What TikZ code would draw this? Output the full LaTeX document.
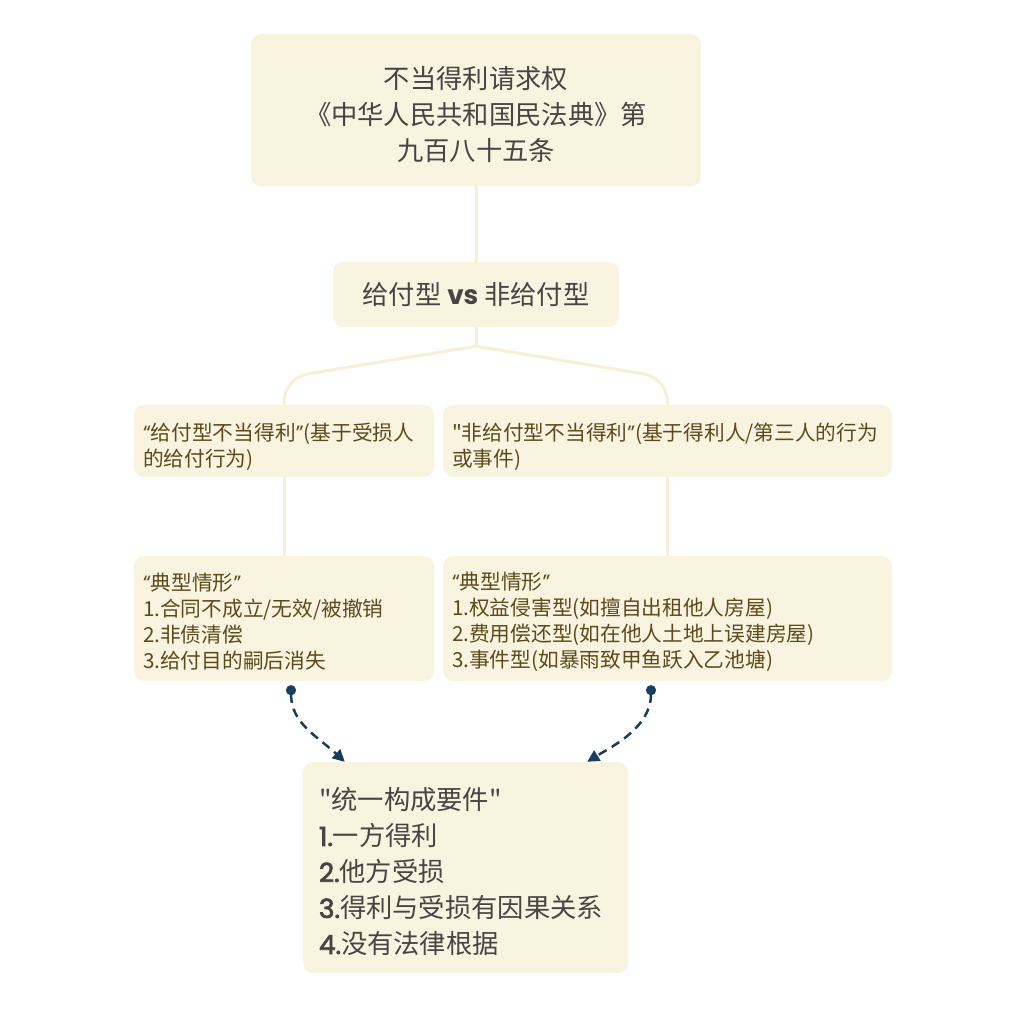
\documentclass[tikz,border=0pt]{standalone}
\usepackage{fontspec}
\setmainfont{Noto Sans CJK SC}[Ligatures=TeXOff]
\newfontfamily\lat{Poppins}[Ligatures=TeXOff]
\newfontfamily\latmid{Poppins}[Ligatures=TeXOff, FakeBold=2.5]
\usetikzlibrary{calc}
\usetikzlibrary{positioning}
\usetikzlibrary{arrows.meta}

\definecolor{boxfill}{HTML}{F9F4DF}
\definecolor{linkcol}{HTML}{F7F0D6}
\definecolor{darktext}{HTML}{4A4343}
\definecolor{browntext}{HTML}{5C4A1C}
\definecolor{navy}{HTML}{183E5E}
\newcommand{\itemno}[1]{{\latmid #1}}
\newcommand{\oq}{{\lat “}}
\newcommand{\cq}{{\lat ”}}
\newcommand{\headroom}[1]{\rule{0pt}{#1}}

\begin{document}
\begin{tikzpicture}[x=1pt, y=-1pt,
    box/.style={rectangle, rounded corners=10pt, fill=boxfill, inner sep=0pt},
    bigbox/.style={box, text=darktext, font=\fontsize{26.3}{36}\selectfont},
    smallbox/.style={box, text=browntext, font=\fontsize{20.7}{26}\selectfont, align=left},
    link/.style={draw=linkcol, line width=3pt},
    flow/.style={draw=navy, line width=2.5pt, dash pattern=on 9pt off 6pt,
        {Circle[length=10pt]}-{Triangle[length=12pt, width=12pt]}}]
    \useasboundingbox (0,0) rectangle (1018,1025);

    \node[bigbox, minimum width=450pt, minimum height=152pt, align=center] (law) at (476,110)
        {\headroom{31pt}不当得利请求权\\《中华人民共和国民法典》第\\九百八十五条};
    \node[bigbox, minimum width=286pt, minimum height=65pt] (type) at (476,294.5)
        {给付型 {\lat\bfseries vs} 非给付型};

    \node[smallbox, minimum width=300pt, minimum height=72pt, text width=282pt] (pay) at (284,441)
        {\headroom{30pt}\oq 给付型不当得利\cq(基于受损人\\的给付行为)};
    \node[smallbox, minimum width=449pt, minimum height=72pt, text width=431pt] (nonpay) at (667.5,441)
        {\headroom{30pt}"非给付型不当得利\cq(基于得利人/第三人的行为\\或事件)};

    \node[smallbox, minimum width=300pt, minimum height=125pt, text width=282pt] (paycase) at (284,618.5)
        {\headroom{24.5pt}\oq 典型情形\cq\\1.合同不成立/无效/被撤销\\2.非债清偿\\3.给付目的嗣后消失};
    \node[smallbox, minimum width=449pt, minimum height=125pt, text width=431pt] (nonpaycase) at (667.5,618.5)
        {\headroom{24.5pt}\oq 典型情形\cq\\1.权益侵害型(如擅自出租他人房屋)\\2.费用偿还型(如在他人土地上误建房屋)\\3.事件型(如暴雨致甲鱼跃入乙池塘)};

    \node[bigbox, minimum width=325pt, minimum height=211pt, text width=293pt, align=left] (unified) at (465.5,867.5)
        {\headroom{31pt}"统一构成要件"\\\itemno{1.}一方得利\\\itemno{2.}他方受损\\\itemno{3.}得利与受损有因果关系\\\itemno{4.}没有法律根据};

    % tree lines
    \draw[link] (law.south) -- (type.north);
    \draw[link] (type.south) -- ++(0,19) coordinate (fork);
    \draw[link, rounded corners=24pt] (fork) -- ($(pay.north)+(0,-27)$) -- (pay.north);
    \draw[link, rounded corners=24pt] (fork) -- ($(nonpay.north)+(0,-27)$) -- (nonpay.north);
    \draw[link] (pay.south) -- (paycase.north);
    \draw[link] (nonpay.south) -- (nonpaycase.north);

    % dashed arrows into the common box
    \coordinate (s1) at ($(paycase.south)+(7,4)$);
    \coordinate (e1) at ($(unified.north west)+(42,0)$);
    \coordinate (s2) at ($(nonpaycase.south)+(-16.5,4)$);
    \coordinate (e2) at ($(unified.north east)+(-41,0)$);
    \draw[flow] (s1) .. controls ($(s1)+(0,38)$) and ($(e1)+(-28,-26)$) .. (e1);
    \draw[flow] (s2) .. controls ($(s2)+(0,42)$) and ($(e2)+(26,-16)$) .. (e2);
\end{tikzpicture}
\end{document}
